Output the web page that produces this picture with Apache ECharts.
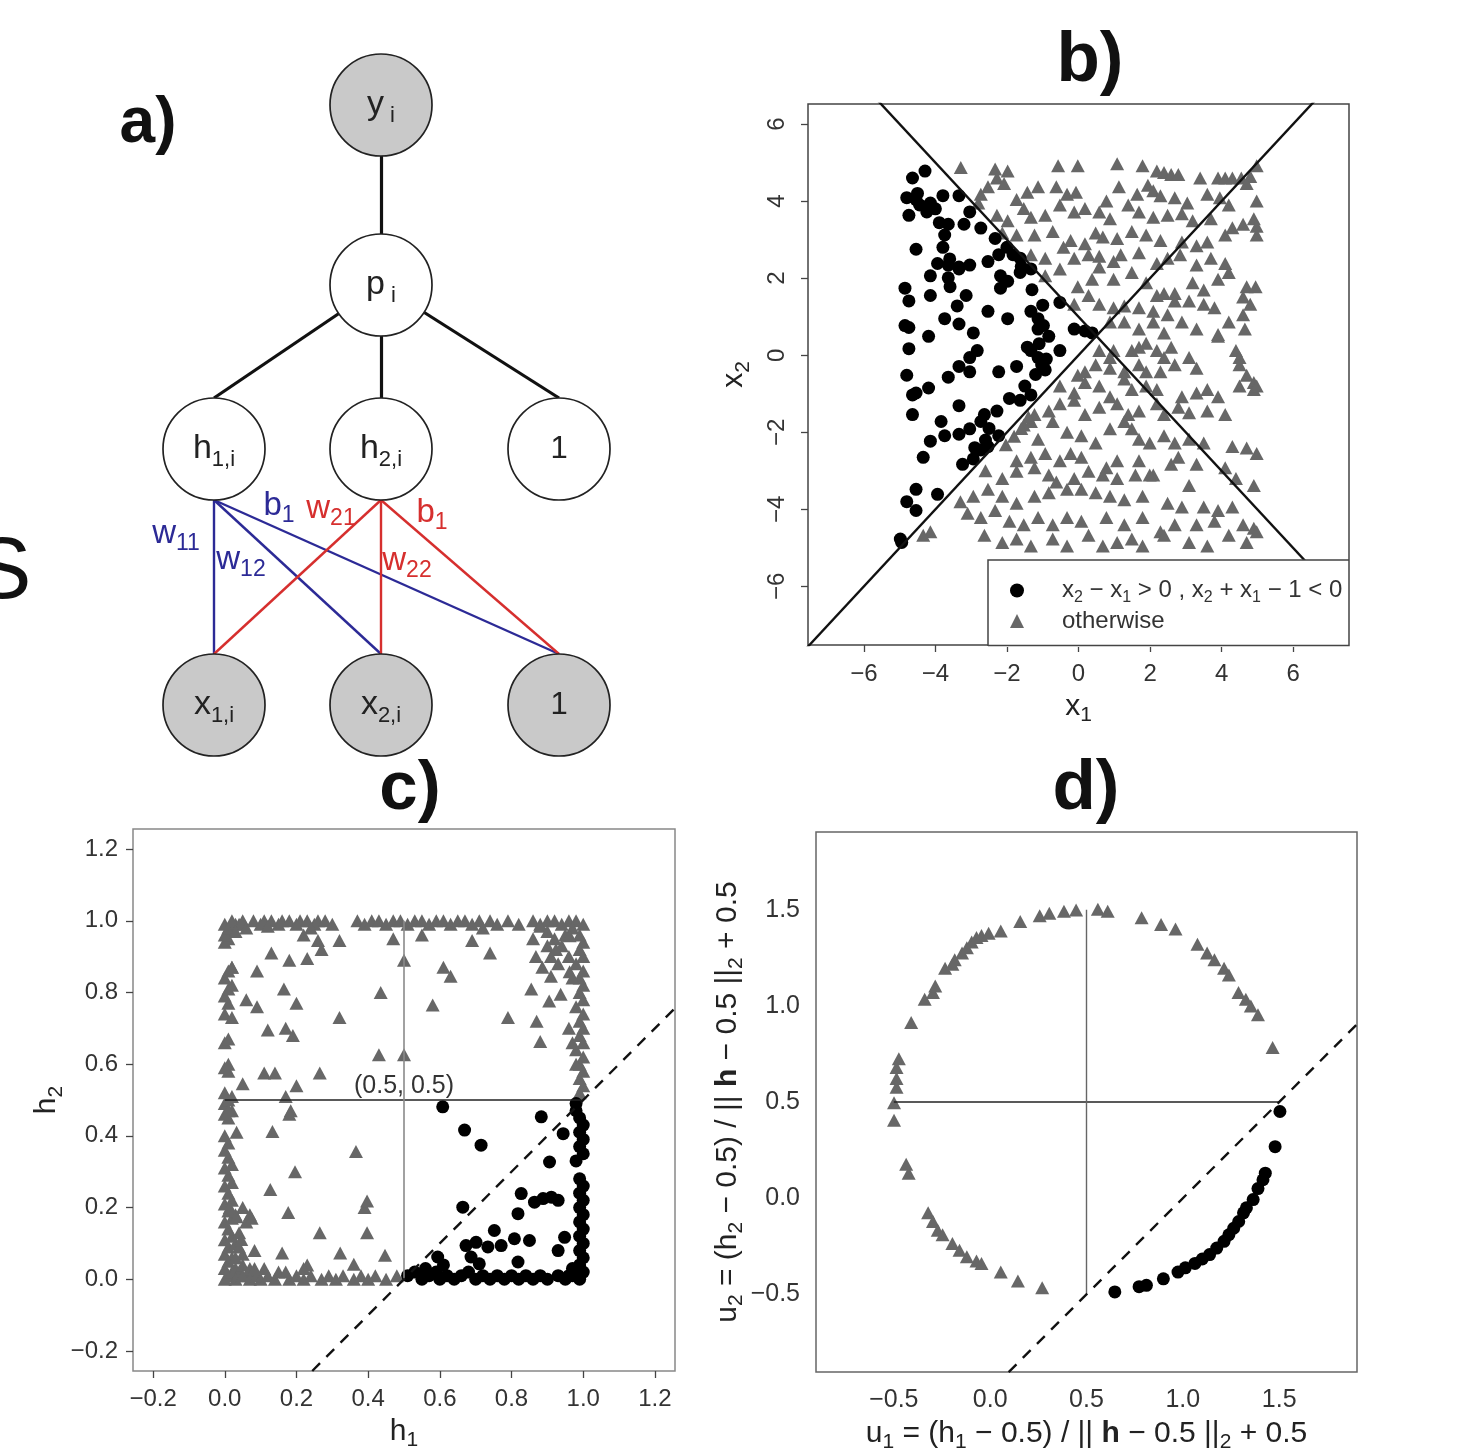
<!DOCTYPE html>
<html><head><meta charset="utf-8">
<script src="https://cdn.jsdelivr.net/npm/echarts@6/dist/echarts.min.js"></script>
<style>html,body{margin:0;padding:0;background:#fff}#c{width:1462px;height:1454px}</style>
</head><body><div id="c"></div>
<script>
// ================= DATA =================
// ---- panel a: network diagram (diagram units) ----
const aNodeId    = ['y', 'p', 'h1', 'h2', 'hb', 'x1', 'x2', 'xb'];
const aNodeX     = [381, 381, 214, 381, 559, 214, 381, 559];
const aNodeY     = [105, 285, 449, 449, 449, 705, 705, 705];
const aNodeText  = ['{m|y}{s| i}', '{m|p}{s| i}', '{m|h}{s|1,i}', '{m|h}{s|2,i}', '{one|1}', '{m|x}{s|1,i}', '{m|x}{s|2,i}', '{one|1}'];
const aNodeShaded = [true, false, false, false, false, true, true, true];
// edges: [from, fromAnchor, to, toAnchor, group]
const aEdges = [
  ['y','c','p','c','k'], ['p','c','h1','t','k'], ['p','c','h2','t','k'], ['p','c','hb','t','k'],
  ['h1','b','x1','t','blue'], ['h1','b','x2','t','blue'], ['h1','b','xb','t','blue'],
  ['h2','b','x1','t','red'], ['h2','b','x2','t','red'], ['h2','b','xb','t','red']
];
const aEdgeLabelText = ['{m|w}{s|11}', '{m|b}{s|1}', '{m|w}{s|12}', '{m|w}{s|21}', '{m|b}{s|1}', '{m|w}{s|22}'];
const aEdgeLabelPos  = [[176,534], [279,506], [241,560], [331,509], [432,513], [407,561]];
const aEdgeLabelGroup = ['blue','blue','blue','red','red','red'];

// ---- panel b ----
const bTicks = [-6, -4, -2, 0, 2, 4, 6];
const bLineA = [[-8, -8], [8, 8]];      // x2 = x1
const bLineB = [[-8, 9], [8, -7]];      // x2 = 1 - x1
const bCircles = [[-4.29,4.78],[-4.64,4.60],[-4.80,4.09],[-4.54,4.04],[-4.44,3.90],[-4.14,3.95],[-4.74,3.63],[-4.24,3.72],[-3.79,4.14],[-3.34,4.14],[-3.04,3.72],[-3.89,3.44],[-3.64,3.40],[-3.74,3.12],[-2.73,3.30],[-2.33,3.03],[-4.54,2.75],[-3.79,2.80],[-3.94,2.38],[-3.64,2.34],[-3.34,2.29],[-3.04,2.34],[-2.53,2.43],[-2.23,2.61],[-1.83,2.61],[-1.63,2.52],[-4.14,2.06],[-3.64,2.01],[-3.34,2.24],[-2.18,2.06],[-1.98,1.92],[-1.63,2.15],[-1.33,2.24],[-4.85,1.74],[-4.74,1.41],[-4.14,1.55],[-3.59,1.78],[-3.14,1.55],[-2.18,1.74],[-4.85,0.77],[-4.74,0.72],[-4.74,0.17],[-4.19,0.49],[-3.74,0.95],[-3.39,1.28],[-3.34,0.81],[-2.94,0.58],[-2.53,1.14],[-1.98,0.95],[-1.33,1.14],[-1.13,0.95],[-1.13,0.68],[-0.98,0.77],[-0.83,0.49],[-0.52,1.37],[-0.12,0.68],[0.18,0.63],[0.38,0.58],[-4.80,-0.52],[-4.54,-0.98],[-4.64,-1.03],[-4.19,-0.85],[-3.64,-0.57],[-3.34,-0.29],[-3.04,-0.06],[-2.83,0.12],[-3.04,-0.43],[-2.23,-0.43],[-1.73,-0.29],[-1.43,0.21],[-1.33,0.12],[-1.13,-0.06],[-1.03,-0.25],[-0.93,-0.38],[-0.52,0.12],[-4.64,-1.54],[-4.14,-2.23],[-3.84,-1.72],[-3.74,-2.09],[-3.34,-2.05],[-3.34,-1.31],[-3.04,-1.91],[-2.73,-1.72],[-2.63,-1.54],[-2.28,-1.45],[-1.93,-1.12],[-1.63,-1.17],[-1.33,-1.03],[-2.73,-2.46],[-2.53,-2.37],[-3.24,-2.83],[-2.94,-2.69],[-4.34,-2.65],[-2.23,-2.09],[-4.54,-3.48],[-4.80,-3.80],[-4.54,-4.03],[-3.94,-3.61],[-4.94,-4.86],[-4.98,-4.77],[-4.50,4.20],[-4.00,3.80],[-3.20,3.40],[-3.60,2.50],[-2.00,2.80],[-1.60,2.30],[-1.30,1.70],[-1.00,1.30],[-1.10,0.30],[-0.90,-0.10],[-1.20,-0.50],[-1.50,-0.80],[-2.50,-1.90],[-2.90,-2.40],[-2.60,-2.20]];
const bTriangles = [
[-3.29,4.87],[-2.33,4.83],[-1.98,4.78],[-0.57,4.92],[-0.02,4.92],[1.08,4.97],[1.79,4.92],[2.19,4.78],[2.39,4.74],[2.59,4.69],[2.79,4.69],[3.40,4.60],[3.90,4.60],[4.10,4.60],[4.30,4.60],[4.55,4.60],[4.80,4.64],[4.98,4.92],
[-2.73,4.18],[-2.53,4.37],[-2.28,4.60],[-2.08,4.46],[-1.73,4.04],[-1.43,4.23],[-1.13,4.37],[-0.62,4.37],[-0.32,4.18],[-0.07,4.23],[0.78,4.00],[1.13,4.37],[1.64,4.18],[1.94,4.41],[2.09,4.27],[2.29,4.14],[2.69,4.09],[3.04,3.95],[3.60,4.18],[3.95,4.09],[4.20,3.90],[4.70,4.46],[4.98,4.00],
[-2.80,3.95],[-2.28,3.63],[-1.98,3.49],[-1.53,3.81],[-1.33,3.58],[-0.93,3.63],[-0.52,3.90],[-0.12,3.72],[0.18,3.81],[0.58,3.72],[0.88,3.54],[1.39,3.90],[1.69,3.72],[2.09,3.58],[2.49,3.63],[2.89,3.67],[3.19,3.49],[3.70,3.54],[4.30,3.31],[4.60,3.40],[4.90,3.54],[4.98,3.35],
[-2.13,3.17],[-1.73,3.12],[-1.23,3.12],[-0.72,3.21],[-0.22,2.98],[0.18,2.89],[0.48,3.17],[0.68,3.07],[1.08,3.03],[1.49,3.21],[1.89,3.12],[2.29,2.98],[2.89,2.94],[3.30,2.84],[3.60,2.94],[4.10,3.12],[4.98,3.12],
[-1.33,2.61],[-0.93,2.52],[-0.42,2.80],[-0.12,2.52],[0.28,2.61],[0.58,2.57],[0.98,2.43],[1.18,2.61],[1.69,2.66],[2.19,2.38],[2.49,2.52],[2.84,2.61],[3.30,2.34],[3.70,2.52],[4.10,2.38],
[-0.93,2.06],[-0.52,2.24],[-0.02,1.78],[0.38,1.97],[0.58,2.29],[0.98,1.97],[1.49,2.15],[1.89,1.88],[2.19,1.55],[2.39,1.60],[2.69,1.60],[3.19,1.88],[3.50,1.69],[3.90,1.97],[4.20,2.15],[4.70,1.78],[4.95,1.78],
[-0.12,1.32],[0.28,1.55],[0.58,1.32],[0.98,1.23],[1.28,1.28],[1.69,1.23],[2.09,1.14],[2.49,1.05],[2.69,1.41],[3.09,1.41],[3.50,1.32],[3.80,1.23],[4.20,0.86],[4.60,1.51],[4.80,1.32],
[0.88,0.86],[1.28,0.86],[1.69,0.68],[2.09,0.86],[2.39,0.58],[2.89,0.86],[3.30,0.68],[3.90,0.54],[4.60,1.05],[4.65,0.68],
[0.58,0.12],[0.88,-0.06],[0.98,0.12],[1.49,0.12],[1.69,0.21],[1.89,0.31],[2.19,0.12],[2.59,0.21],[2.39,-0.06],[3.09,-0.06],[3.90,0.49],[4.40,0.12],[4.50,-0.06],
[-0.02,-0.52],[0.18,-0.43],[0.48,-0.25],[0.88,-0.34],[1.28,-0.43],[1.69,-0.25],[1.89,-0.43],[2.29,-0.43],[2.69,-0.25],[3.30,-0.34],[4.50,-0.25],[4.70,-0.52],[4.90,-0.71],
[-0.52,-0.80],[-0.12,-0.98],[0.18,-0.71],[0.58,-0.80],[0.88,-1.08],[1.28,-0.62],[1.49,-0.89],[1.89,-0.80],[2.19,-0.89],[2.89,-1.08],[3.30,-0.98],[3.60,-0.89],[3.90,-1.08],[4.50,-0.80],[4.90,-0.89],[4.98,-0.80],
[-1.23,-1.54],[-0.83,-1.45],[-0.52,-1.26],[-0.12,-1.17],[0.18,-1.54],[0.58,-1.35],[1.08,-1.26],[1.39,-1.54],[1.69,-1.45],[2.19,-1.26],[2.39,-1.54],[2.79,-1.35],[3.09,-1.49],[3.60,-1.45],[4.10,-1.54],
[-1.53,-1.81],[-1.33,-1.72],[-1.13,-2.18],[-0.72,-1.72],[-0.32,-2.00],[0.08,-2.09],[0.48,-2.28],[0.88,-1.91],[1.28,-1.72],[1.49,-1.91],[1.69,-2.18],[1.99,-2.28],[2.39,-2.09],[2.69,-2.28],[3.09,-2.18],[3.50,-2.28],[4.30,-2.37],[4.70,-2.41],[4.98,-2.55],
[-2.03,-2.32],[-1.73,-2.74],[-1.33,-2.65],[-0.93,-2.55],[-0.52,-2.74],[-0.22,-2.55],[0.08,-2.65],[0.78,-2.92],[1.08,-2.74],[1.69,-2.74],[2.09,-3.11],[2.59,-2.83],[2.79,-2.65],[3.30,-2.83],[4.10,-2.92],
[-2.13,-3.20],[-1.73,-3.01],[-1.23,-2.92],[-0.83,-3.11],[-0.62,-3.29],[-0.12,-3.20],[0.28,-3.01],[0.68,-3.11],[1.08,-3.20],[1.59,-3.11],[1.99,-3.11],[3.09,-3.38],[4.40,-3.20],[4.90,-3.38],
[-2.94,-3.66],[-2.53,-3.48],[-2.13,-3.66],[-1.73,-3.84],[-1.23,-3.66],[-0.83,-3.57],[-0.32,-3.48],[0.08,-3.48],[0.48,-3.57],[0.88,-3.66],[1.28,-3.75],[1.79,-3.66],[2.49,-3.84],[2.89,-3.94],[3.50,-3.94],[3.90,-4.03],[4.30,-3.94],
[-2.73,-4.21],[-2.33,-4.03],[-1.93,-4.31],[-1.53,-4.40],[-1.13,-4.21],[-0.72,-4.40],[-0.32,-4.21],[0.08,-4.31],[0.78,-4.21],[1.28,-4.40],[1.79,-4.21],[2.29,-4.58],[2.69,-4.40],[3.30,-4.40],[3.80,-4.31],[4.60,-4.40],[4.90,-4.49],
[-4.14,-4.58],[-4.34,-4.67],[-2.63,-4.67],[-2.13,-4.86],[-1.73,-4.77],[-1.33,-4.95],[-0.72,-4.77],[-0.32,-4.95],[0.28,-4.67],[0.68,-4.95],[1.08,-4.86],[1.49,-4.77],[1.79,-4.95],[2.39,-4.67],[3.09,-4.86],[3.60,-4.95],[4.20,-4.67],[4.70,-4.86],[4.98,-4.58],
[-3.30,-3.80],[-3.10,-4.10],[-2.60,-3.00],[-1.80,-2.10],[-1.60,-1.90],[-1.40,-1.60]];

// ---- panel c ----
const cTicks = [-0.2, 0, 0.2, 0.4, 0.6, 0.8, 1.0, 1.2];
const cHLine = [[0, 0.5], [1, 0.5]];
const cVLine = [[0.5, 0], [0.5, 1]];
const cDash  = [[0.244, -0.256], [1.256, 0.756]];   // h2 = h1 - 0.5
const cCentreLabel = [[0.5, 0.54]];
const cTriangles = [
[0.00,0.00],[0.01,0.01],[0.02,0.02],[0.00,0.03],[0.03,0.03],[0.01,0.05],[0.02,0.06],[0.00,0.07],[0.01,0.09],[0.03,0.10],[0.00,0.11],[0.02,0.12],[0.01,0.14],[0.00,0.16],[0.02,0.17],[0.03,0.18],[0.01,0.19],[0.00,0.21],[0.02,0.22],[0.01,0.24],[0.00,0.26],[0.02,0.27],[0.01,0.29],[0.00,0.31],[0.02,0.32],[0.01,0.34],[0.00,0.36],[0.01,0.38],[0.00,0.40],[0.01,0.45],[0.00,0.46],[0.02,0.47],[0.00,0.49],[0.01,0.50],[0.02,0.51],[0.00,0.52],[0.01,0.58],[0.00,0.59],[0.01,0.60],[0.00,0.66],[0.01,0.67],[0.00,0.74],[0.01,0.77],[0.00,0.79],[0.01,0.81],[0.02,0.82],[0.00,0.84],[0.01,0.86],[0.02,0.87],[0.00,0.94],[0.01,0.95],[0.00,0.96],[0.02,0.97],[0.01,0.98],[0.03,0.99],[0.04,0.02],[0.05,0.04],[0.06,0.01],[0.07,0.03],[0.05,0.07],[0.08,0.02],[0.04,0.13],[0.06,0.16],[0.05,0.20],[0.07,0.18],[0.03,0.06],[0.04,0.09],
[0.00,0.99],[0.02,1.00],[0.04,0.99],[0.05,1.00],[0.06,0.98],[0.08,1.00],[0.10,0.99],[0.11,1.00],[0.13,1.00],[0.15,0.99],[0.16,1.00],[0.18,1.00],[0.20,0.99],[0.21,1.00],[0.23,1.00],[0.25,0.99],[0.26,1.00],[0.28,1.00],[0.30,0.99],[0.37,1.00],[0.39,0.99],[0.41,1.00],[0.43,1.00],[0.45,0.99],[0.47,1.00],[0.49,1.00],[0.51,0.99],[0.53,1.00],[0.55,1.00],[0.57,0.99],[0.59,1.00],[0.61,1.00],[0.63,0.99],[0.65,1.00],[0.67,1.00],[0.69,0.99],[0.71,1.00],[0.74,1.00],[0.76,0.99],[0.79,1.00],[0.82,0.99],[0.86,1.00],[0.88,0.99],[0.90,1.00],[0.92,1.00],[0.94,0.99],[0.96,1.00],[0.98,1.00],[1.00,0.99],[0.12,0.985],[0.03,0.97],[0.72,0.98],[0.24,0.98],
[0.03,0.00],[0.05,0.01],[0.07,0.00],[0.09,0.01],[0.10,0.00],[0.12,0.01],[0.14,0.00],[0.15,0.02],[0.18,0.00],[0.20,0.01],[0.22,0.00],[0.24,0.01],[0.27,0.00],[0.29,0.01],[0.31,0.00],[0.33,0.01],[0.36,0.00],[0.38,0.01],[0.40,0.00],[0.42,0.01],[0.45,0.00],[0.48,0.01],[0.11,0.03],[0.23,0.04],[0.17,0.02],
[0.99,0.52],[1.00,0.54],[0.99,0.56],[1.00,0.58],[0.99,0.60],[1.00,0.62],[0.98,0.64],[1.00,0.66],[0.99,0.68],[1.00,0.70],[0.99,0.72],[1.00,0.74],[0.98,0.76],[1.00,0.78],[0.99,0.80],[1.00,0.82],[0.99,0.84],[1.00,0.86],[0.98,0.88],[1.00,0.90],[0.99,0.92],[1.00,0.94],[0.99,0.96],[0.97,0.98],[0.90,0.97],[0.92,0.95],[0.94,0.93],[0.96,0.90],[0.90,0.93],[0.93,0.88],[0.95,0.96],[0.88,0.985],[0.86,0.95],[0.91,0.90],[0.97,0.84],[0.96,0.70],[0.97,0.66],[0.98,0.60],
[0.22,0.96],[0.26,0.945],[0.32,0.945],[0.27,0.92],[0.13,0.91],[0.18,0.89],[0.23,0.895],[0.47,0.95],[0.50,0.89],[0.55,0.96],[0.69,0.945],[0.74,0.91],[0.61,0.87],[0.63,0.845],[0.02,0.87],[0.09,0.86],[0.02,0.73],[0.06,0.78],[0.09,0.76],[0.165,0.81],[0.20,0.77],[0.12,0.695],[0.17,0.70],[0.19,0.68],[0.11,0.575],[0.14,0.575],[0.05,0.545],[0.20,0.54],[0.17,0.51],[0.265,0.575],[0.32,0.73],[0.435,0.80],[0.58,0.765],[0.50,0.626],[0.43,0.626],[0.79,0.73],[0.88,0.663],[0.87,0.72],[0.855,0.81],[0.905,0.776],[0.886,0.87],[0.91,0.845],[0.868,0.90],[0.924,0.92],[0.937,0.795],[0.962,0.958],[0.962,0.858],[0.01,0.47],[0.033,0.41],[0.184,0.47],[0.133,0.412],[0.18,0.46],[0.366,0.356],[0.196,0.30],[0.127,0.25],[0.177,0.186],[0.265,0.13],[0.322,0.073],[0.36,0.042],[0.397,0.13],[0.39,0.20],[0.397,0.218],[0.046,0.111],[0.083,0.08],[0.16,0.073],[0.083,0.03],[0.22,0.03],[0.447,0.067],[0.033,0.174],[0.014,0.20],[0.075,0.17]];
const cCircles = [
[0.51,0.01],[0.53,0.02],[0.55,0.00],[0.57,0.01],[0.59,0.02],[0.60,0.00],[0.62,0.01],[0.64,0.00],[0.66,0.01],[0.70,0.00],[0.72,0.01],[0.74,0.00],[0.76,0.01],[0.78,0.00],[0.80,0.01],[0.82,0.00],[0.84,0.01],[0.86,0.00],[0.88,0.01],[0.90,0.00],[0.93,0.01],[0.95,0.00],[0.97,0.01],[0.99,0.00],[0.56,0.03],[0.68,0.02],[0.61,0.04],
[1.00,0.02],[0.99,0.04],[1.00,0.06],[0.99,0.08],[1.00,0.10],[0.99,0.12],[1.00,0.14],[0.99,0.16],[1.00,0.18],[0.99,0.20],[1.00,0.22],[0.99,0.24],[1.00,0.26],[0.99,0.28],[0.98,0.33],[1.00,0.35],[0.99,0.37],[1.00,0.39],[0.99,0.41],[1.00,0.43],[0.99,0.45],[0.98,0.47],[0.98,0.49],[0.97,0.03],[0.96,0.01],
[0.608,0.481],[0.669,0.416],[0.715,0.374],[0.883,0.453],[0.944,0.406],[0.906,0.327],[0.827,0.239],[0.864,0.215],[0.888,0.225],[0.911,0.229],[0.93,0.22],[0.664,0.201],[0.818,0.183],[0.752,0.136],[0.673,0.094],[0.701,0.103],[0.734,0.09],[0.771,0.094],[0.808,0.113],[0.85,0.108],[0.594,0.062],[0.687,0.062],[0.71,0.043],[0.818,0.048],[0.93,0.08],[0.948,0.117]];

// ---- panel d ----
const dTicks = [-0.5, 0, 0.5, 1.0, 1.5];
const dHLine = [[-0.5, 0.5], [1.5, 0.5]];
const dVLine = [[0.5, -0.5], [0.5, 1.5]];
const dDash  = [[0.096, -0.904], [1.904, 0.904]];   // u2 = u1 - 1
const dTriangles = [[-0.41,0.913],[-0.34,1.034],[-0.297,1.069],[-0.285,1.103],[-0.234,1.195],[-0.196,1.217],[-0.184,1.24],[-0.146,1.275],[-0.121,1.302],[-0.096,1.332],[-0.071,1.355],[-0.045,1.366],[-0.008,1.378],[0.055,1.389],[0.156,1.439],[0.257,1.469],[0.307,1.481],[0.383,1.492],[0.446,1.499],[0.559,1.503],[0.610,1.492],[0.786,1.458],[0.887,1.423],[0.962,1.40],[1.076,1.32],[1.126,1.275],[1.164,1.24],[1.214,1.195],[1.239,1.16],[1.289,1.069],[1.327,1.034],[1.353,1.0],[1.39,0.954],[1.466,0.783],[-0.474,0.725],[-0.486,0.68],[-0.486,0.622],[-0.486,0.577],[-0.499,0.497],[-0.499,0.405],[-0.436,0.176],[-0.423,0.13],[-0.322,-0.076],[-0.297,-0.121],[-0.272,-0.167],[-0.247,-0.19],[-0.196,-0.236],[-0.159,-0.27],[-0.121,-0.304],[-0.071,-0.327],[-0.045,-0.339],[0.055,-0.384],[0.144,-0.43],[0.27,-0.465]];
const dCircles = [[1.504,0.451],[1.479,0.268],[1.428,0.13],[1.416,0.096],[1.39,0.05],[1.365,-0.007],[1.33,-0.05],[1.315,-0.076],[1.29,-0.121],[1.264,-0.156],[1.239,-0.19],[1.214,-0.224],[1.176,-0.259],[1.139,-0.293],[1.101,-0.316],[1.063,-0.339],[1.013,-0.362],[0.975,-0.384],[0.899,-0.419],[0.811,-0.453],[0.773,-0.46],[0.647,-0.487]];

// ================= STYLE / BUILD =================
const FONT = '"Liberation Sans", Arial, Helvetica, sans-serif';
const TXT = '#222';
const BLUE = '#2c2a96', RED = '#d62f2e';
const minus = s => String(s).replace('-', '\u2212');
const fmtInt = v => minus(v);
const fmt1 = v => minus(Number(v).toFixed(1));
// rich subscript helper: main size fm, sub size fs
function subRich(fm, fs, color, extra) {
  const shift = 0.55 * fm - 0.35 * fs;
  const r = {
    m: {fontSize: fm, lineHeight: fm, fontFamily: FONT, color: color, verticalAlign: 'middle'},
    s: {fontSize: fs, lineHeight: fs, fontFamily: FONT, color: color, verticalAlign: 'middle', padding: [Math.round(2 * shift), 0, 0, 0]},
    b: {fontSize: fm, lineHeight: fm, fontFamily: FONT, color: color, fontWeight: 'bold', verticalAlign: 'middle'}
  };
  return Object.assign(r, extra || {});
}

const nodeIdx = {};
aNodeId.forEach((id, i) => nodeIdx[id] = i);
const R = 51;
function anchor(id, a) {
  const i = nodeIdx[id];
  return [aNodeX[i], aNodeY[i] + (a === 't' ? -R : a === 'b' ? R : 0)];
}
const edgeColor = {k: '#111', blue: BLUE, red: RED};
const aEdgeData = aEdges.map(e => ({
  coords: [anchor(e[0], e[1]), anchor(e[2], e[3])],
  lineStyle: {color: edgeColor[e[4]], width: e[4] === 'k' ? 3.2 : 2.4, opacity: 1}
}));
const aNodeData = aNodeId.map((id, i) => ({
  value: [aNodeX[i], aNodeY[i]],
  itemStyle: {color: aNodeShaded[i] ? '#c9c9c9' : '#ffffff', borderColor: '#222', borderWidth: 1.7, opacity: 1},
  label: {formatter: aNodeText[i]}
}));
const aLabelData = aEdgeLabelPos.map((p, i) => ({
  value: p,
  label: {formatter: aEdgeLabelText[i], rich: subRich(33, 23, aEdgeLabelGroup[i] === 'blue' ? BLUE : RED)}
}));

const nodeRich = subRich(34, 22, TXT, {one: {fontSize: 31, fontFamily: FONT, color: TXT}});
const nameRich = subRich(30, 21, '#222');

function valAxis(gi, min, max, opt) {
  return Object.assign({
    gridIndex: gi, type: 'value', min: min, max: max,
    axisLine: {show: false, onZero: false}, splitLine: {show: false}
  }, opt);
}
const tickStyle = ticks => ({show: true, length: 7, lineStyle: {color: '#444', width: 1.3}, customValues: ticks});

const chart = echarts.init(document.getElementById('c'), null, {renderer: 'canvas'});
const option = {
  backgroundColor: '#ffffff',
  animation: false,
  textStyle: {fontFamily: FONT},
  grid: [
    {left: 0, top: 0, width: 700, height: 770, show: false},
    {left: 808, top: 104, width: 541, height: 541, show: true, borderColor: '#444', borderWidth: 1.5, backgroundColor: 'transparent'},
    {left: 133, top: 829, width: 542, height: 542, show: true, borderColor: '#888', borderWidth: 1.5, backgroundColor: 'transparent'},
    {left: 816, top: 832, width: 541, height: 543, show: true, borderColor: '#666', borderWidth: 1.5, backgroundColor: 'transparent'}
  ],
  xAxis: [
    valAxis(0, 0, 700, {show: false}),
    valAxis(1, -7.56, 7.56, {
      axisTick: tickStyle(bTicks),
      axisLabel: {customValues: bTicks, formatter: fmtInt, fontSize: 24, color: '#333', margin: 17, fontFamily: FONT},
      name: '{m|x}{s|1}', nameLocation: 'middle', nameGap: 43,
      nameTextStyle: {rich: nameRich}
    }),
    valAxis(2, -0.256, 1.256, {
      axisTick: tickStyle(cTicks),
      axisLabel: {customValues: cTicks, formatter: fmt1, fontSize: 24, color: '#333', margin: 16, fontFamily: FONT},
      name: '{m|h}{s|1}', nameLocation: 'middle', nameGap: 44,
      nameTextStyle: {rich: nameRich}
    }),
    valAxis(3, -0.904, 1.904, {
      axisTick: {show: false},
      axisLabel: {customValues: dTicks, formatter: fmt1, fontSize: 25, color: '#333', margin: 16, fontFamily: FONT},
      name: '{m|u}{s|1}{m| = (h}{s|1}{m| \u2212 0.5) / || }{b|h}{m| \u2212 0.5 ||}{s|2}{m| + 0.5}', nameLocation: 'middle', nameGap: 38,
      nameTextStyle: {rich: nameRich}
    })
  ],
  yAxis: [
    valAxis(0, 0, 770, {show: false, inverse: true}),
    valAxis(1, -7.52, 6.52, {
      axisTick: tickStyle(bTicks),
      axisLabel: {customValues: bTicks, formatter: fmtInt, fontSize: 24, color: '#333', margin: 19, rotate: 90, fontFamily: FONT},
      name: '{m|x}{s|2}', nameLocation: 'middle', nameGap: 59, nameRotate: 90,
      nameTextStyle: {rich: nameRich}
    }),
    valAxis(2, -0.256, 1.256, {
      axisTick: tickStyle(cTicks),
      axisLabel: {customValues: cTicks, formatter: fmt1, fontSize: 24, color: '#333', margin: 15, fontFamily: FONT},
      name: '{m|h}{s|2}', nameLocation: 'middle', nameGap: 64, nameRotate: 90,
      nameTextStyle: {rich: nameRich}
    }),
    valAxis(3, -0.904, 1.904, {
      axisTick: {show: false},
      axisLabel: {customValues: dTicks, formatter: fmt1, fontSize: 25, color: '#333', margin: 16, fontFamily: FONT},
      name: '{m|u}{s|2}{m| = (h}{s|2}{m| \u2212 0.5) / || }{b|h}{m| \u2212 0.5 ||}{s|2}{m| + 0.5}', nameLocation: 'middle', nameGap: 69, nameRotate: 90,
      nameTextStyle: {rich: nameRich}
    })
  ],
  legend: {
    data: ['bCircles', 'bTriangles'], orient: 'vertical', left: 1010, top: 575,
    itemWidth: 14, itemHeight: 14, itemGap: 3, padding: 0, selectedMode: false, z: 200,
    formatter: name => name === 'bCircles'
      ? '{g| }{m|x}{s|2}{m| \u2212 x}{s|1}{m| > 0 , x}{s|2}{m| + x}{s|1}{m| \u2212 1 < 0}'
      : '{g| }{m|otherwise}',
    textStyle: {rich: subRich(24, 16, '#333', {g: {width: 33, fontSize: 24}})}
  },
  graphic: [
    {type: 'rect', z: 150, shape: {x: 988, y: 560, width: 363, height: 87}, style: {fill: '#fff', stroke: null}},
    {type: 'polyline', z: 151, shape: {points: [[988, 646], [988, 560], [1349, 560]]}, style: {stroke: '#444', lineWidth: 1.5, fill: null}},
    {type: 'polyline', z: 151, shape: {points: [[1349, 560], [1349, 645.5], [988, 645.5]]}, style: {stroke: '#444', lineWidth: 1.5, fill: null}},
    {type: 'text', z: 150, x: 148, y: 124, style: {text: 'a)', fontSize: 64, fontWeight: 'bold', fontFamily: FONT, fill: '#111', align: 'center', verticalAlign: 'middle'}},
    {type: 'text', z: 150, x: 1090, y: 61, style: {text: 'b)', fontSize: 71, fontWeight: 'bold', fontFamily: FONT, fill: '#111', align: 'center', verticalAlign: 'middle'}},
    {type: 'text', z: 150, x: 410, y: 790, style: {text: 'c)', fontSize: 69, fontWeight: 'bold', fontFamily: FONT, fill: '#111', align: 'center', verticalAlign: 'middle'}},
    {type: 'text', z: 150, x: 1086, y: 789, style: {text: 'd)', fontSize: 71, fontWeight: 'bold', fontFamily: FONT, fill: '#111', align: 'center', verticalAlign: 'middle'}},
    {type: 'text', z: 150, x: 2, y: 574, style: {text: 'S', fontSize: 88, fontFamily: FONT, fill: '#111', align: 'center', verticalAlign: 'middle'}}
  ],
  series: [
    // ---- panel a ----
    {type: 'lines', name: 'aEdges', coordinateSystem: 'cartesian2d', xAxisIndex: 0, yAxisIndex: 0, z: 2, data: aEdgeData, silent: true,
     lineStyle: {opacity: 1}},
    {type: 'scatter', name: 'aNodes', xAxisIndex: 0, yAxisIndex: 0, z: 3, symbol: 'circle', symbolSize: 102, data: aNodeData,
     label: {show: true, position: 'inside', rich: nodeRich}, silent: true},
    {type: 'scatter', name: 'aEdgeLabels', xAxisIndex: 0, yAxisIndex: 0, z: 4, symbolSize: 0, data: aLabelData,
     itemStyle: {opacity: 1}, label: {show: true, position: 'inside'}, silent: true},
    // ---- panel b ----
    {type: 'scatter', name: 'bTriangles', xAxisIndex: 1, yAxisIndex: 1, symbol: 'triangle', symbolSize: [14, 13], itemStyle: {color: '#676767', opacity: 1}, data: bTriangles, z: 2},
    {type: 'scatter', name: 'bCircles', xAxisIndex: 1, yAxisIndex: 1, symbol: 'circle', symbolSize: 13, itemStyle: {color: '#000', opacity: 1}, data: bCircles, z: 2},
    {type: 'line', name: 'bLineA', xAxisIndex: 1, yAxisIndex: 1, data: bLineA, showSymbol: false, clip: true, lineStyle: {color: '#111', width: 2.4}, z: 3},
    {type: 'line', name: 'bLineB', xAxisIndex: 1, yAxisIndex: 1, data: bLineB, showSymbol: false, clip: true, lineStyle: {color: '#111', width: 2.4}, z: 3},
    // ---- panel c ----
    {type: 'scatter', name: 'cTriangles', xAxisIndex: 2, yAxisIndex: 2, symbol: 'triangle', symbolSize: [14, 13], itemStyle: {color: '#676767', opacity: 1}, data: cTriangles, z: 2},
    {type: 'scatter', name: 'cCircles', xAxisIndex: 2, yAxisIndex: 2, symbol: 'circle', symbolSize: 13, itemStyle: {color: '#000', opacity: 1}, data: cCircles, z: 2},
    {type: 'line', name: 'cHLine', xAxisIndex: 2, yAxisIndex: 2, data: cHLine, showSymbol: false, lineStyle: {color: '#222', width: 1.6}, z: 3},
    {type: 'line', name: 'cVLine', xAxisIndex: 2, yAxisIndex: 2, data: cVLine, showSymbol: false, lineStyle: {color: '#8a8a8a', width: 1.6}, z: 3},
    {type: 'line', name: 'cDash', xAxisIndex: 2, yAxisIndex: 2, data: cDash, showSymbol: false, clip: true, lineStyle: {color: '#111', width: 2.4, type: [11, 9]}, z: 3},
    {type: 'scatter', name: 'cCentre', xAxisIndex: 2, yAxisIndex: 2, symbolSize: 0, data: cCentreLabel, z: 4, itemStyle: {opacity: 1},
     label: {show: true, position: 'inside', formatter: '(0.5, 0.5)', fontSize: 25, color: '#333', fontFamily: FONT}},
    // ---- panel d ----
    {type: 'scatter', name: 'dTriangles', xAxisIndex: 3, yAxisIndex: 3, symbol: 'triangle', symbolSize: [14, 13], itemStyle: {color: '#676767', opacity: 1}, data: dTriangles, z: 2},
    {type: 'scatter', name: 'dCircles', xAxisIndex: 3, yAxisIndex: 3, symbol: 'circle', symbolSize: 13, itemStyle: {color: '#000', opacity: 1}, data: dCircles, z: 2},
    {type: 'line', name: 'dHLine', xAxisIndex: 3, yAxisIndex: 3, data: dHLine, showSymbol: false, lineStyle: {color: '#222', width: 1.4}, z: 3},
    {type: 'line', name: 'dVLine', xAxisIndex: 3, yAxisIndex: 3, data: dVLine, showSymbol: false, lineStyle: {color: '#666', width: 1.4}, z: 3},
    {type: 'line', name: 'dDash', xAxisIndex: 3, yAxisIndex: 3, data: dDash, showSymbol: false, clip: true, lineStyle: {color: '#111', width: 2.4, type: [11, 9]}, z: 3}
  ]
};
chart.setOption(option);
</script></body></html>
